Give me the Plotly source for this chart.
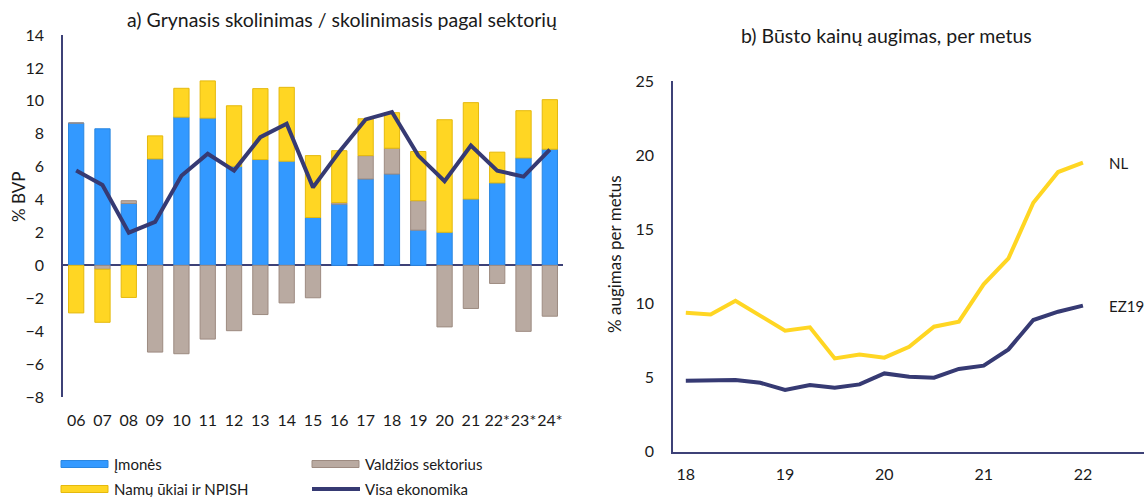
import plotly.graph_objects as go

# ---- Panel a: net lending / borrowing by sector, % of GDP ----
years = ["06", "07", "08", "09", "10", "11", "12", "13", "14", "15",
         "16", "17", "18", "19", "20", "21", "22*", "23*", "24*"]
imones = [8.65, 8.30, 3.76, 6.47, 9.01, 8.95, 6.02, 6.43, 6.33, 2.91,
          3.72, 5.25, 5.55, 2.14, 2.01, 4.03, 5.01, 6.53, 7.06]
valdzia = [0.0, -0.24, 0.17, -5.27, -5.37, -4.48, -3.97, -2.99, -2.28, -1.97,
           0.10, 1.42, 1.57, 1.79, -3.74, -2.62, -1.10, -4.01, -3.09]
namu_ukiai = [-2.89, -3.22, -1.95, 1.40, 1.75, 2.26, 3.68, 4.31, 4.49, 3.76,
              3.15, 2.24, 2.16, 2.99, 6.84, 5.86, 1.87, 2.87, 3.01]
visa_ekonomika = [5.76, 4.88, 1.99, 2.64, 5.45, 6.78, 5.76, 7.79, 8.61, 4.74,
                  6.90, 8.87, 9.32, 6.67, 5.11, 7.28, 5.76, 5.39, 7.04]
y_ticks_a = [14, 12, 10, 8, 6, 4, 2, 0, -2, -4, -6, -8]

# ---- Panel b: house price growth, y/y % ----
quarters = [18.0, 18.25, 18.5, 18.75, 19.0, 19.25, 19.5, 19.75, 20.0,
            20.25, 20.5, 20.75, 21.0, 21.25, 21.5, 21.75, 22.0]
nl = [9.37, 9.26, 10.18, 9.15, 8.16, 8.39, 6.29, 6.56, 6.34,
      7.08, 8.43, 8.77, 11.29, 13.04, 16.79, 18.86, 19.49]
ez19 = [4.79, 4.79, 4.83, 4.65, 4.16, 4.50, 4.32, 4.54, 5.28,
        5.06, 4.99, 5.58, 5.80, 6.90, 8.88, 9.44, 9.85]
x_ticks_b = [18, 19, 20, 21, 22]
y_ticks_b = [0, 5, 10, 15, 20, 25]

BLUE = "#3399ff"
BLUE_EDGE = "#2a86e0"
YELLOW = "#ffd623"
YELLOW_EDGE = "#e5b90d"
GREY = "#b9aaa1"
GREY_EDGE = "#9d8b81"
NAVY = "#363a73"
AXIS = "#3d4177"
FONT = "Lato"
TXT = "#1a1a1a"

W, H = 1144, 497


def px_x(p):
    return p / W


def px_y(p):
    return 1 - p / H


fig = go.Figure()

bar_w = 0.58
fig.add_trace(go.Bar(x=years, y=imones, name="Įmonės", width=bar_w,
                     marker=dict(color=BLUE, line=dict(color=BLUE_EDGE, width=1)),
                     xaxis="x", yaxis="y"))
fig.add_trace(go.Bar(x=years, y=valdzia, name="Valdžios sektorius", width=bar_w,
                     marker=dict(color=GREY, line=dict(color=GREY_EDGE, width=1)),
                     xaxis="x", yaxis="y"))
fig.add_trace(go.Bar(x=years, y=namu_ukiai, name="Namų ūkiai ir NPISH", width=bar_w,
                     marker=dict(color=YELLOW, line=dict(color=YELLOW_EDGE, width=1)),
                     xaxis="x", yaxis="y"))
fig.add_trace(go.Scatter(x=years, y=visa_ekonomika, name="Visa ekonomika",
                         mode="lines", line=dict(color=NAVY, width=4),
                         xaxis="x", yaxis="y"))

fig.add_trace(go.Scatter(x=quarters, y=nl, name="NL", mode="lines",
                         line=dict(color=YELLOW, width=4), xaxis="x2", yaxis="y2"))
fig.add_trace(go.Scatter(x=quarters, y=ez19, name="EZ19", mode="lines",
                         line=dict(color=NAVY, width=4), xaxis="x2", yaxis="y2"))

tick_font = dict(family=FONT, size=16, color=TXT)

fig.update_layout(
    width=W, height=H,
    margin=dict(l=0, r=0, t=0, b=0, autoexpand=False),
    paper_bgcolor="white", plot_bgcolor="white",
    barmode="relative",
    showlegend=False,
    font=dict(family=FONT, color=TXT),
    xaxis=dict(domain=[px_x(63), px_x(563)], range=[-0.5, 18.5],
               type="category", showgrid=False, showline=False, zeroline=False,
               ticks="", tickfont=tick_font, tickangle=0, ticklabelstandoff=12,
               automargin=False),
    yaxis=dict(domain=[px_y(397), px_y(35)], range=[-8, 14],
               tickvals=y_ticks_a, showgrid=False, showline=True,
               linecolor=AXIS, linewidth=1.5, zeroline=True,
               zerolinecolor=AXIS, zerolinewidth=1.5, ticks="",
               tickfont=tick_font, ticklabelstandoff=14, automargin=False),
    xaxis2=dict(domain=[px_x(673), 1.0], range=[17.871, 22.615],
                tickvals=x_ticks_b, ticktext=[str(v) for v in x_ticks_b],
                showgrid=False, showline=True, linecolor=AXIS, linewidth=1.5,
                zeroline=False, ticks="", tickfont=tick_font, tickangle=0,
                ticklabelstandoff=7, anchor="y2", automargin=False),
    yaxis2=dict(domain=[px_y(451.7), px_y(81)], range=[0, 25],
                tickvals=y_ticks_b, showgrid=False, showline=True,
                linecolor=AXIS, linewidth=1.5, zeroline=False, ticks="",
                tickfont=tick_font, ticklabelstandoff=14, anchor="x2",
                automargin=False),
)


def paper_text(text, x, y, size=15, angle=0, xanchor="center"):
    return dict(text=text, x=px_x(x), y=px_y(y), xref="paper", yref="paper",
                xanchor=xanchor, yanchor="middle", textangle=angle,
                showarrow=False, font=dict(family=FONT, size=size, color=TXT))


ann = [
    paper_text("a) Grynasis skolinimas / skolinimasis pagal sektorių", 342, 19, 19.5),
    paper_text("b) Būsto kainų augimas, per metus", 886, 35, 19.5),
    paper_text("% BVP", 18, 197, 17, angle=-90),
    paper_text("% augimas per metus", 614, 254, 17, angle=-90),
]
ann.append(dict(text="NL", x=22.24, y=nl[-1], xref="x2", yref="y2",
                xanchor="left", yanchor="middle", showarrow=False,
                font=dict(family=FONT, size=15, color=TXT)))
ann.append(dict(text="EZ19", x=22.24, y=ez19[-1], xref="x2", yref="y2",
                xanchor="left", yanchor="middle", showarrow=False,
                font=dict(family=FONT, size=15, color=TXT)))

# legend for panel a: swatches and labels in two columns
shapes = []
legend_items = [
    ("Įmonės", "bar", BLUE, BLUE_EDGE, 61, 464),
    ("Valdžios sektorius", "bar", GREY, GREY_EDGE, 312, 464),
    ("Namų ūkiai ir NPISH", "bar", YELLOW, YELLOW_EDGE, 61, 489),
    ("Visa ekonomika", "line", NAVY, NAVY, 312, 489),
]
for label, kind, fill, edge, lx, ly in legend_items:
    if kind == "bar":
        shapes.append(dict(type="rect", xref="paper", yref="paper",
                           x0=px_x(lx), x1=px_x(lx + 47),
                           y0=px_y(ly + 3.5), y1=px_y(ly - 3.5),
                           fillcolor=fill, line=dict(color=edge, width=1)))
    else:
        shapes.append(dict(type="line", xref="paper", yref="paper",
                           x0=px_x(lx), x1=px_x(lx + 48),
                           y0=px_y(ly), y1=px_y(ly),
                           line=dict(color=fill, width=4)))
    ann.append(paper_text(label, lx + 51, ly, xanchor="left"))

fig.update_layout(annotations=ann, shapes=shapes)

fig.write_html("out.html")
